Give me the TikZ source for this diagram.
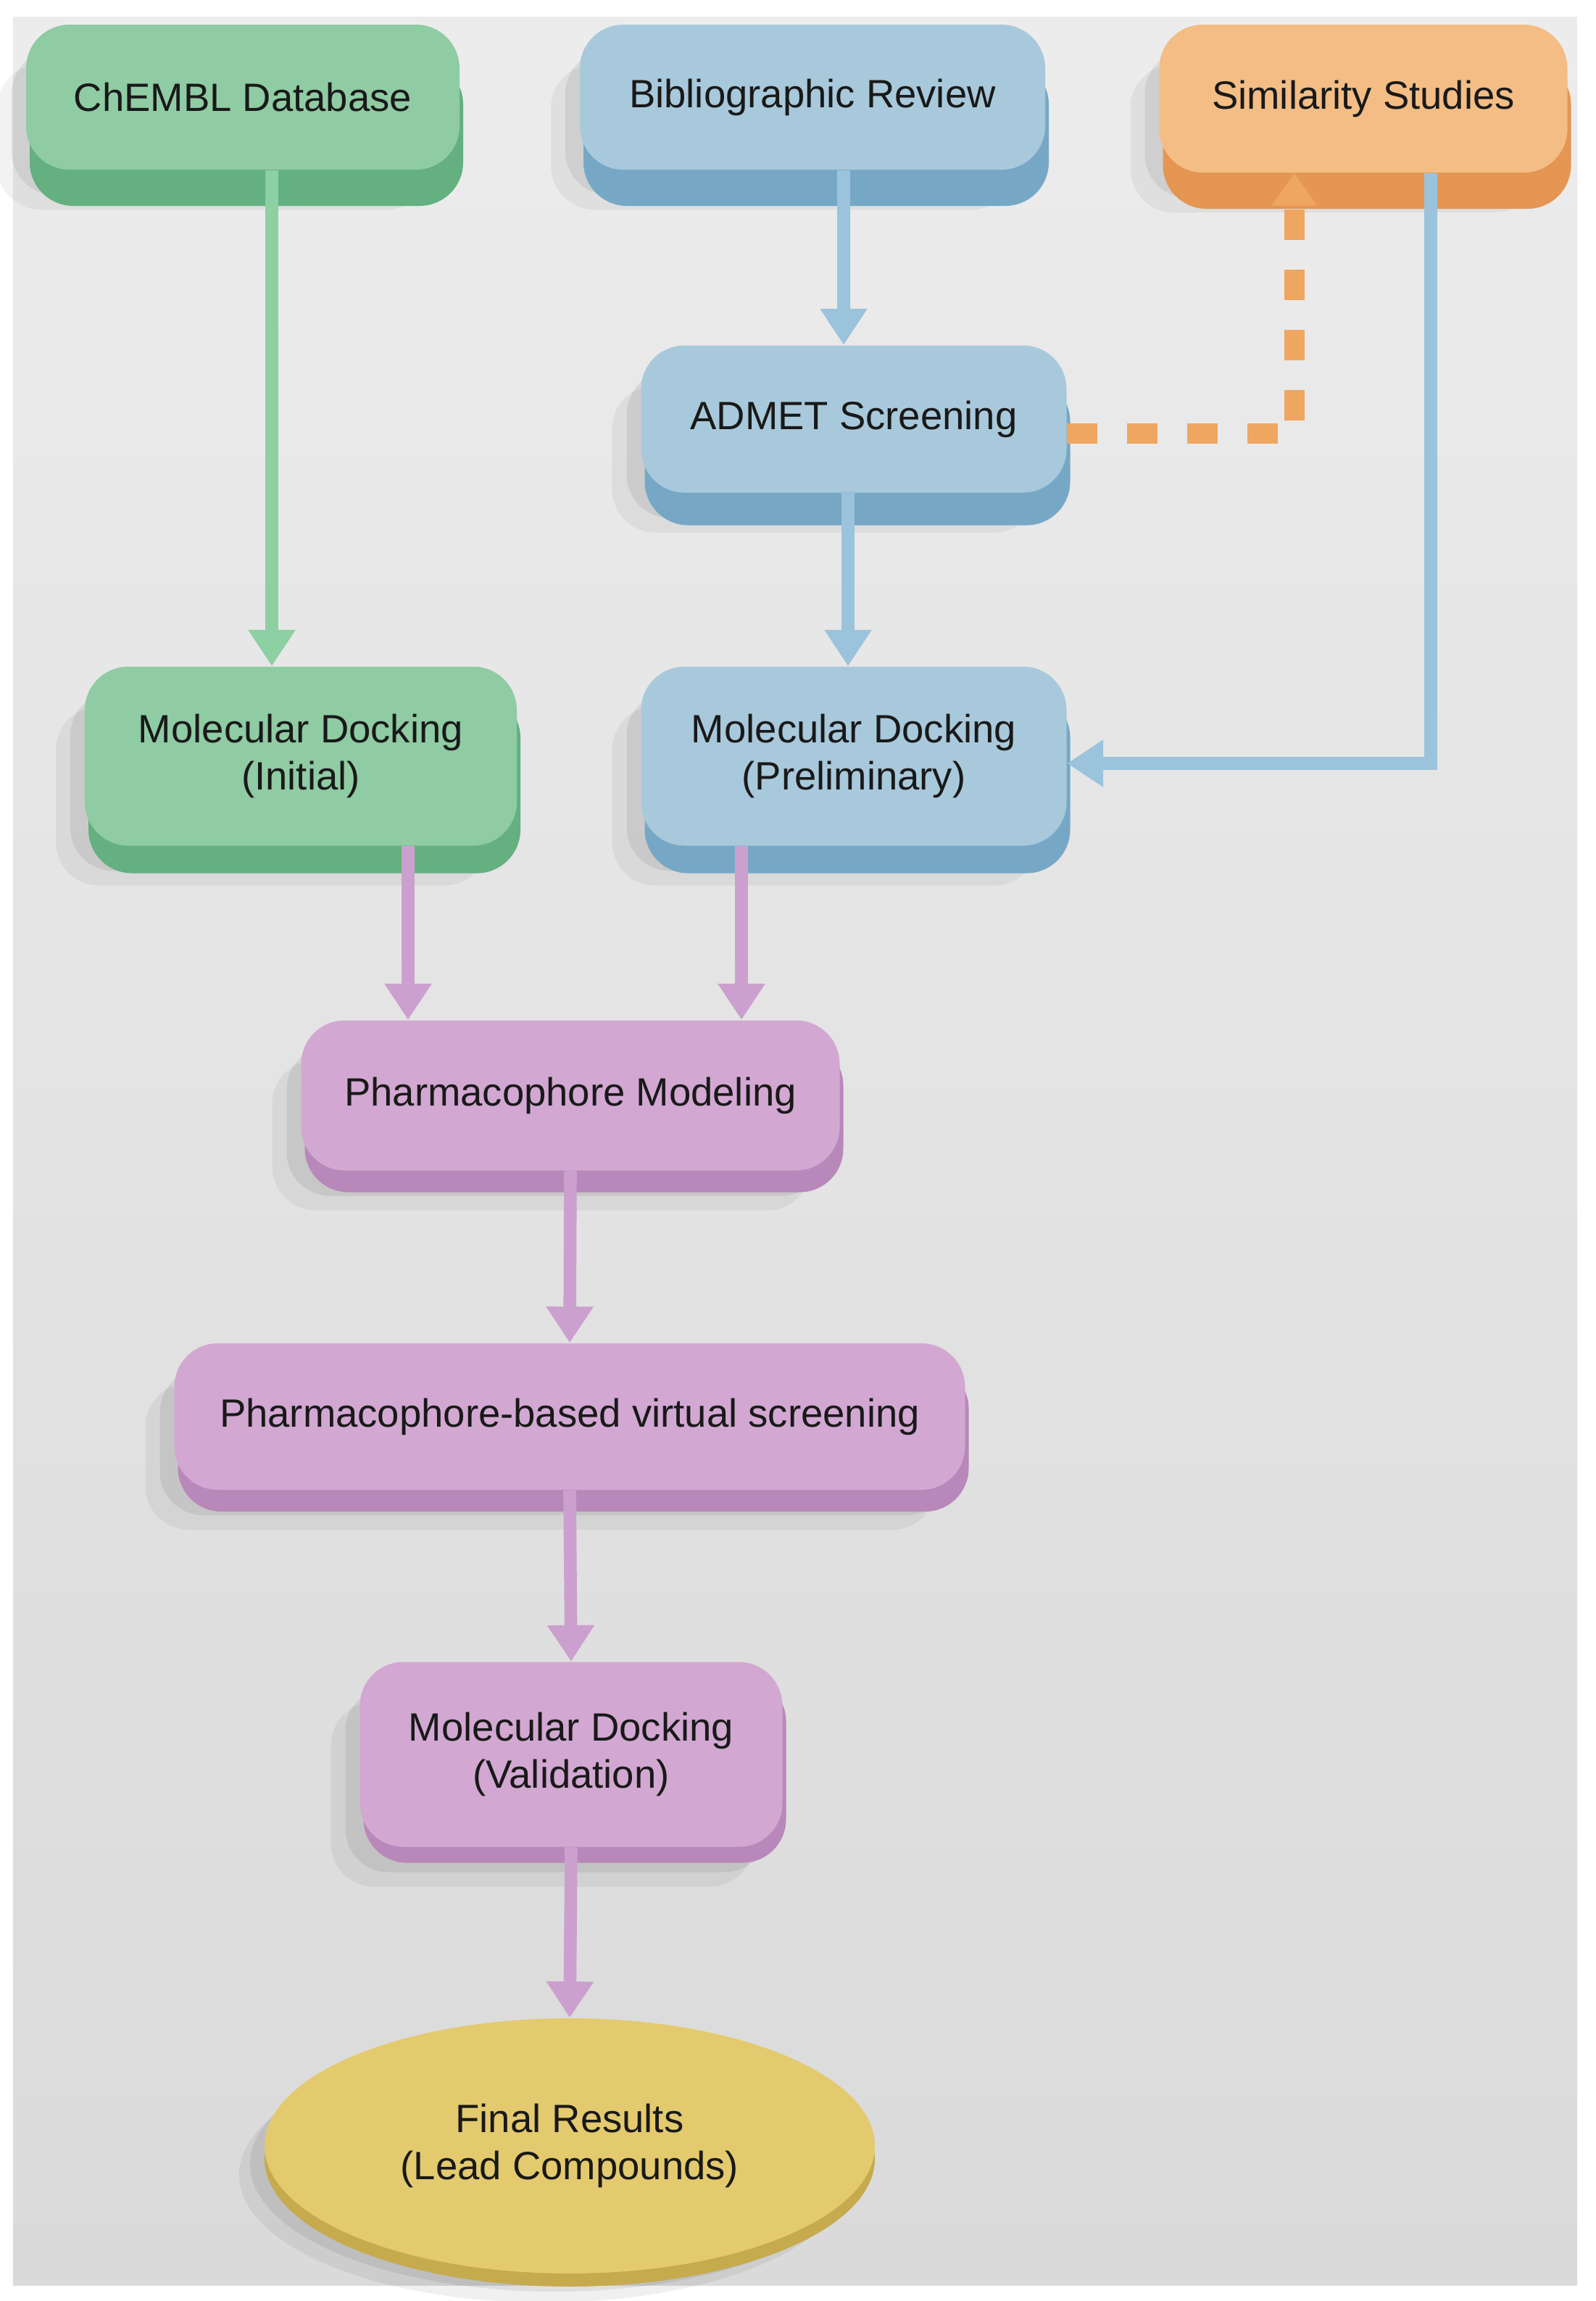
\documentclass[tikz,border=0pt]{standalone}
\usepackage{fontspec}
\setmainfont{Liberation Sans}
\usepackage{xcolor}
\usetikzlibrary{arrows.meta, shapes.geometric, shadows}
\definecolor{greenface}{RGB}{143,203,163}
\definecolor{greenside}{RGB}{100,176,128}
\definecolor{greenline}{RGB}{140,208,164}
\definecolor{blueface}{RGB}{168,201,219}
\definecolor{blueside}{RGB}{118,168,198}
\definecolor{blueline}{RGB}{155,195,220}
\definecolor{orangeface}{RGB}{243,189,133}
\definecolor{orangeside}{RGB}{228,150,82}
\definecolor{orangeline}{RGB}{238,166,96}
\definecolor{purpleface}{RGB}{210,168,210}
\definecolor{purpleside}{RGB}{184,136,186}
\definecolor{purpleline}{RGB}{204,160,206}
\definecolor{yellowface}{RGB}{228,202,110}
\definecolor{yellowside}{RGB}{198,170,78}
\definecolor{paneltop}{RGB}{236,236,236}
\definecolor{panelbottom}{RGB}{218,218,218}

\begin{document}
\begin{tikzpicture}[
  font=\fontsize{15.5}{18.5}\selectfont,
  block/.style 2 args={rounded corners=0.6cm, align=center, text=black!90, inner sep=0pt, fill=#1face,
    drop shadow={shadow xshift=-0.4cm, shadow yshift=-0.55cm, opacity=0.05, fill=black},
    drop shadow={shadow xshift=-0.2cm, shadow yshift=-0.35cm, opacity=0.07, fill=black},
    general shadow={fill=#1side, shadow xshift=0.05cm, shadow yshift=-#2}},
  result/.style={ellipse, align=center, text=black!90, inner sep=0pt, fill=yellowface,
    drop shadow={shadow xshift=-0.35cm, shadow yshift=-0.4cm, opacity=0.06, fill=black},
    drop shadow={shadow xshift=-0.2cm, shadow yshift=-0.25cm, opacity=0.07, fill=black},
    general shadow={fill=yellowside, shadow yshift=-0.18cm}},
  link/.style={line width=5pt, #1line, -{Triangle[length=0.5cm, width=0.62cm]}},
]
  \fill[white] (0,0) rectangle (22.01,-31.74);
  \fill[top color=paneltop, bottom color=panelbottom] (0.18,-0.23) rectangle (21.76,-31.52);

  % top row
  \node[block={green}{0.5cm}, minimum width=5.98cm, minimum height=2.0cm] (chembl) at (3.35,-1.34) {ChEMBL Database};
  \node[block={blue}{0.5cm}, minimum width=6.42cm, minimum height=2.0cm] (biblio) at (11.21,-1.34) {Bibliographic Review};
  \node[block={orange}{0.5cm}, minimum width=5.63cm, minimum height=2.04cm] (simil) at (18.81,-1.36) {Similarity Studies};

  \node[block={blue}{0.45cm}, minimum width=5.87cm, minimum height=2.03cm] (admet) at (11.78,-5.78) {ADMET Screening};

  \node[block={green}{0.38cm}, minimum width=5.96cm, minimum height=2.47cm] (dockinit) at (4.15,-10.43) {Molecular Docking\\(Initial)};
  \node[block={blue}{0.38cm}, minimum width=5.87cm, minimum height=2.47cm] (dockprelim) at (11.78,-10.43) {Molecular Docking\\(Preliminary)};

  % pharmacophore part
  \node[block={purple}{0.3cm}, minimum width=7.43cm, minimum height=2.07cm] (pharmmod) at (7.87,-15.11) {Pharmacophore Modeling};
  \node[block={purple}{0.3cm}, minimum width=10.91cm, minimum height=2.02cm] (pbvs) at (7.86,-19.54) {Pharmacophore-based virtual screening};
  \node[block={purple}{0.22cm}, minimum width=5.83cm, minimum height=2.55cm] (dockvalid) at (7.88,-24.20) {Molecular Docking\\(Validation)};
  \node[result, minimum width=8.42cm, minimum height=3.52cm] (final) at (7.86,-29.60) {Final Results\\(Lead Compounds)};

  % connectors
  \draw[link=green] ([xshift=0.40cm]chembl.south) -- ([xshift=-0.40cm]dockinit.north);
  \draw[link=blue] ([xshift=0.43cm]biblio.south) -- ([xshift=-0.14cm]admet.north);
  \draw[link=blue] ([xshift=-0.08cm]admet.south) -- ([xshift=-0.08cm]dockprelim.north);
  \draw[orangeline, line width=8pt, dash pattern=on 0.42cm off 0.41cm,
    -{Triangle[length=0.45cm, width=0.6cm]}] ([yshift=-0.2cm]admet.east) -| ([xshift=-0.95cm]simil.south);
  \draw[link=blue] ([xshift=0.93cm]simil.south) |- ([yshift=-0.1cm]dockprelim.east);
  \draw[link=purple] ([xshift=1.48cm]dockinit.south) -- ([xshift=-2.24cm]pharmmod.north);
  \draw[link=purple] ([xshift=-1.55cm]dockprelim.south) -- ([xshift=2.36cm]pharmmod.north);
  \draw[link=purple] (pharmmod.south) -- (pbvs.north);
  \draw[link=purple] (pbvs.south) -- (dockvalid.north);
  \draw[link=purple] (dockvalid.south) -- (final.north);
\end{tikzpicture}
\end{document}
